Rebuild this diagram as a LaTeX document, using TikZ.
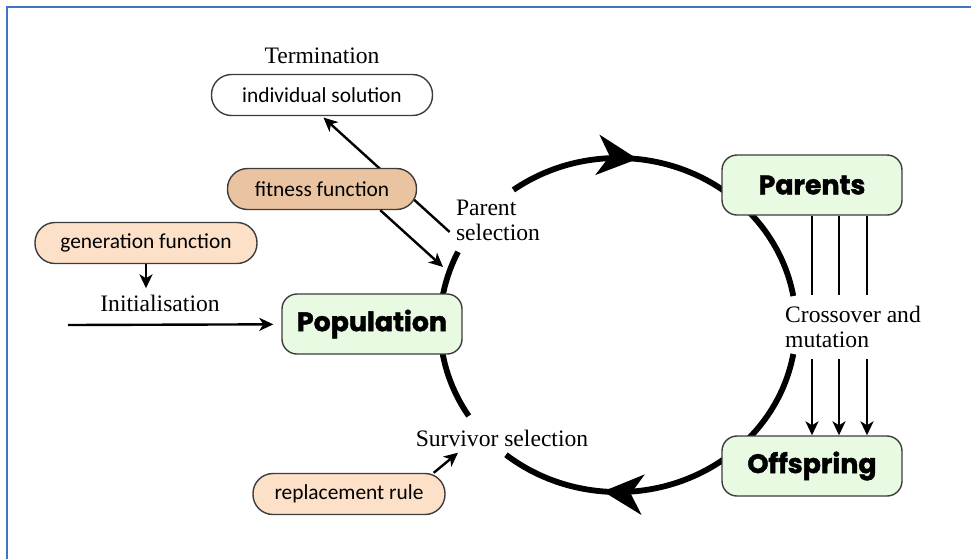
\documentclass[tikz,border=0pt]{standalone}
\usepackage{fontspec}
\setmainfont{Liberation Serif}
\newfontfamily\pillfont{Carlito}
\newfontfamily\stagefont{Poppins}[BoldFeatures={FakeBold=1.6}]
\usetikzlibrary{positioning, calc, arrows.meta, decorations.markings, backgrounds}
\definecolor{stagegreen}{RGB}{232,250,225}
\definecolor{fitorange}{RGB}{234,196,160}
\definecolor{peach}{RGB}{252,224,200}
\definecolor{frameblue}{RGB}{68,114,196}
\definecolor{edgegray}{RGB}{60,60,60}
\tikzset{stage/.style={draw=edgegray, line width=0.7pt, fill=stagegreen, rounded corners=7.5pt, minimum width=90pt, minimum height=30pt, font=\stagefont\bfseries\fontsize{13.4}{15}\selectfont}}
\tikzset{pill/.style={draw=edgegray, line width=0.7pt, rounded corners=10pt, minimum height=20.5pt, font=\pillfont\fontsize{10.7}{12}\selectfont}}
\tikzset{lbl/.style={font=\fontsize{11.8}{12.5}\selectfont, align=left, inner sep=3pt}}
\tikzset{arr/.style={draw, line width=1.2pt, -{Stealth[length=7pt,width=6.5pt,inset=2pt]}}}
\tikzset{cycarc/.style={line width=2.9pt}}
\tikzset{cycarr/.style={cycarc, postaction={decorate}, decoration={markings, mark=at position #1 with {\arrow{Stealth[length=20pt,width=20pt,inset=6pt]}}}}}

\begin{document}
\begin{tikzpicture}[x=0.5pt, y=-0.5pt]
  \useasboundingbox (0,0) rectangle (971,559);
  \draw[frameblue, line width=1pt] (7,559) -- (7,7) -- (971,7);

  % the evolution cycle
  \coordinate (ctr) at (618,325);
  \draw[cycarr=0.37] ([shift={(-126:178 and 167)}]ctr) arc[start angle=-126, end angle=-10, x radius=178, y radius=167];
  \draw[cycarr=0.71] ([shift={(10:178 and 167)}]ctr) arc[start angle=10, end angle=129, x radius=178, y radius=167];
  \draw[cycarc] ([shift={(147:178 and 167)}]ctr) arc[start angle=147, end angle=206, x radius=178, y radius=167];

  \node[stage] (pop) at (372,324) {Population};
  \node[stage] (par) at (812,185) {Parents};
  \node[stage] (off) at (812,466) {Offspring};

  \node[pill, fill=white, minimum width=110.5pt] (indiv) at (322,95) {individual solution};
  \node[lbl, above=2pt of indiv] (term) {Termination};
  \node[pill, fill=fitorange, minimum width=94.5pt] (fit) at (322,189) {fitness function};
  \node[pill, fill=peach, minimum width=111pt] (gen) at (146,243) {generation function};
  \node[lbl] (init) at (160,303) {Initialisation};
  \node[pill, fill=peach, minimum width=96pt] (repl) at (349,494) {replacement rule};

  \node[lbl] (psel) at (498,220) {Parent\\selection};
  \node[lbl] (surv) at (502,438) {Survivor selection};
  \node[lbl, inner ysep=5.5pt] (xo) at (853,327) {Crossover and\\mutation};

  \coordinate (popin) at (68,325);
  \coordinate (pselin) at (443,267);

  \draw[arr, shorten >=4pt] (popin) -- (pop);
  \draw[arr] (gen.south) -- (gen.south |- init.north);
  \draw[arr] (fit.-20) -- (pselin);
  \begin{scope}[on background layer]
    \draw[arr, shorten >=1pt] ([yshift=-6pt]psel.west) -- (indiv.south);
  \end{scope}
  \draw[arr] ([xshift=-6pt]repl.north east) -- ([xshift=-22pt]surv.south);

  \foreach \i/\dx in {1/0, 2/13.5, 3/27.5} {
    \coordinate (pa\i) at ([xshift=\dx pt]par.south);
    \coordinate (of\i) at ([xshift=\dx pt]off.north);
    \draw[line width=1.2pt] (pa\i) -- (pa\i |- xo.north);
    \draw[arr] (of\i |- xo.south) -- (of\i);
  }
\end{tikzpicture}
\end{document}
